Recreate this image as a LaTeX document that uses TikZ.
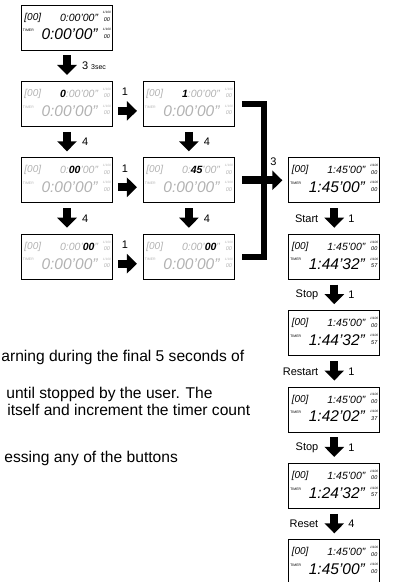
\documentclass[tikz,border=0pt]{standalone}
\usepackage{fontspec}
\setmainfont{Liberation Sans}
\usepackage{xcolor}
\usetikzlibrary{positioning,arrows.meta}

\colorlet{dim}{black!30}
\newcommand{\on}[1]{\textcolor{black}{\bfseries#1}}
\newcommand{\hund}{{\fontsize{3.2}{3.2}\selectfont 1/100}}
% one display: name, placement, colour, top time, big time, hundredths
\newcommand{\lcdbox}[6]{%
  \node[lcd] (#1) [#2] {};
  \node[memo, text=#3] (#1-mem) at ([xshift=3pt,yshift=-13pt]#1.north west) {[00]};
  \node[small time, text=#3] (#1-top) at ([xshift=-14.5pt,yshift=-13pt]#1.north east) {#4};
  \node[hundredths, text=#3] (#1-hs) at ([xshift=-6pt,yshift=-12pt]#1.north east) {\hund\\[2.5pt]00};
  \node[timer tag, text=#3] (#1-tag) at ([xshift=1.5pt,yshift=-26pt]#1.north west) {TIMER};
  \node[big time, text=#3] (#1-big) at ([xshift=-15pt,yshift=-30pt]#1.north east) {#5};
  \node[hundredths, text=#3] (#1-hb) at ([xshift=-6pt,yshift=-29pt]#1.north east) {\hund\\[2.5pt]#6};
}

\begin{document}
\begin{tikzpicture}[x=1pt, y=1pt, node distance=30.5pt, thick,
  lcd/.style={draw, line width=0.9pt, minimum width=91pt, minimum height=45pt, inner sep=0pt}]

  \tikzstyle{memo} = [anchor=west, inner sep=0pt, font=\fontsize{10}{10}\selectfont\itshape]
  \tikzstyle{small time} = [anchor=east, inner sep=0pt, font=\fontsize{10.5}{10.5}\selectfont\itshape]
  \tikzstyle{big time} = [anchor=east, inner sep=0pt, font=\fontsize{15.5}{15.5}\selectfont\itshape]
  \tikzstyle{hundredths} = [align=center, inner sep=0pt, font=\fontsize{5.5}{5}\selectfont\itshape]
  \tikzstyle{timer tag} = [anchor=west, inner sep=0pt, font=\fontsize{3.5}{3.5}\selectfont]
  \tikzstyle{fat} = [line width=8pt, -{Triangle[width=19pt 0, length=10pt 0]}, shorten <=5pt, shorten >=6pt]
  \tikzstyle{bracket line} = [line width=6pt, line join=miter]
  \tikzstyle{lbl} = [font=\fontsize{11}{11}\selectfont, inner sep=1pt]
  \tikzstyle{note} = [anchor=west, inner sep=0pt, font=\fontsize{15.6}{15.6}\selectfont]

  \useasboundingbox (0,0) rectangle (392,582);

  % setting the count
  \lcdbox{A}{at={(67,554.5)}}{black}{0:00'00''}{0:00'00''}{00}
  \lcdbox{B1}{below=of A}{dim}{\on{0}:00'00''}{0:00'00''}{00}
  \lcdbox{C1}{right=30pt of B1}{dim}{\on{1}:00'00''}{0:00'00''}{00}
  \lcdbox{B2}{below=of B1}{dim}{0:\on{00}'00''}{0:00'00''}{00}
  \lcdbox{C2}{below=of C1}{dim}{0:\on{45}'00''}{0:00'00''}{00}
  \lcdbox{B3}{below=of B2}{dim}{0:00'\on{00}''}{0:00'00''}{00}
  \lcdbox{C3}{below=of C2}{dim}{0:00'\on{00}''}{0:00'00''}{00}

  % running
  \lcdbox{R1}{right=53.5pt of C2}{black}{1:45'00''}{1:45'00''}{00}
  \lcdbox{R2}{below=of R1}{black}{1:45'00''}{1:44'32''}{57}
  \lcdbox{R3}{below=of R2}{black}{1:45'00''}{1:44'32''}{57}
  \lcdbox{R4}{below=of R3}{black}{1:45'00''}{1:42'02''}{37}
  \lcdbox{R5}{below=of R4}{black}{1:45'00''}{1:24'32''}{57}
  \lcdbox{R6}{below=of R5}{black}{1:45'00''}{1:45'00''}{00}

  \draw[fat] (A) -- (B1) node[lbl, midway, anchor=west, xshift=10pt] {3 {\fontsize{7}{7}\selectfont 3sec}};
  \draw[fat] (B1) -- (B2) node[lbl, midway, anchor=west, xshift=10pt] {4};
  \draw[fat] (B2) -- (B3) node[lbl, midway, anchor=west, xshift=10pt] {4};
  \draw[fat] (C1) -- (C2) node[lbl, midway, anchor=west, xshift=10pt] {4};
  \draw[fat] (C2) -- (C3) node[lbl, midway, anchor=west, xshift=10pt] {4};

  \draw[fat] ([yshift=-7pt]B1.east) -- ([yshift=-7pt]C1.west) node[lbl, pos=0.4, above=10pt] {1};
  \draw[fat] ([yshift=-7pt]B2.east) -- ([yshift=-7pt]C2.west) node[lbl, pos=0.4, above=10pt] {1};
  \draw[fat] ([yshift=-7pt]B3.east) -- ([yshift=-7pt]C3.west) node[lbl, pos=0.4, above=10pt] {1};

  \draw[bracket line] ([xshift=7pt]C1.east) -| ([xshift=29pt]C3.east) -- ([xshift=7pt]C3.east);
  \draw[fat, shorten <=7pt] (C2) -- (R1) node[lbl, pos=0.72, above=10pt] {3};

  \draw[fat] (R1) -- (R2) node[lbl, midway, left=11pt] {Start} node[lbl, midway, right=9pt] {1};
  \draw[fat] (R2) -- (R3) node[lbl, midway, left=11pt] {Stop} node[lbl, midway, right=9pt] {1};
  \draw[fat] (R3) -- (R4) node[lbl, midway, left=11pt] {Restart} node[lbl, midway, right=9pt] {1};
  \draw[fat] (R4) -- (R5) node[lbl, midway, left=11pt] {Stop} node[lbl, midway, right=9pt] {1};
  \draw[fat] (R5) -- (R6) node[lbl, midway, left=11pt] {Reset} node[lbl, midway, right=9pt] {4};

  \node[note] (n1) at (1,225) {arning during the final 5 seconds of};
  \node[note] (n2) at (6,188) {until stopped by the user. The};
  \node[note] (n3) at (7,172) {itself and increment the timer count};
  \node[note] (n4) at (4,124) {essing any of the buttons};

\end{tikzpicture}
\end{document}
